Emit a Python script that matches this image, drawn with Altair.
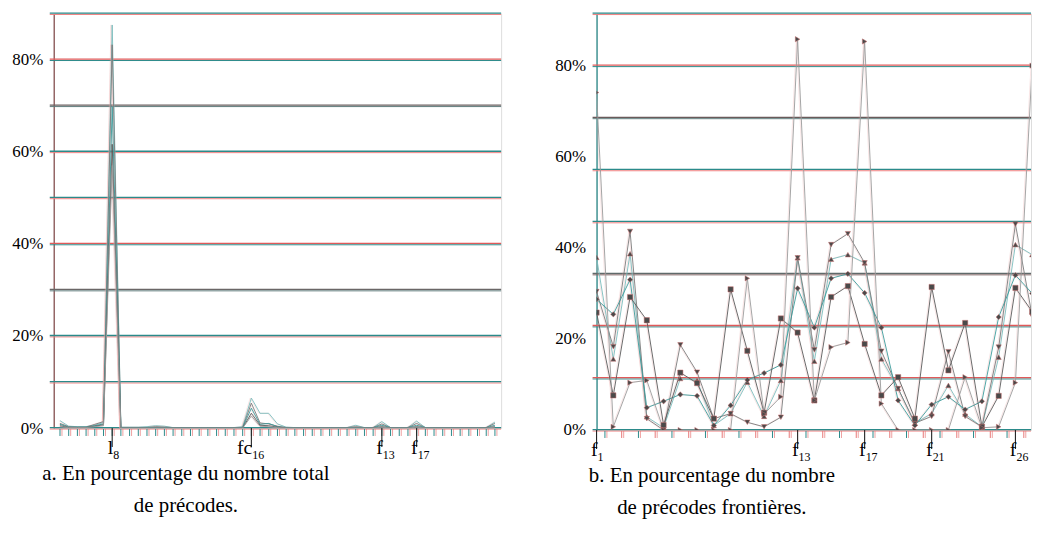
import altair as alt
import pandas as pd

# ---------------- data : panel a ----------------
left_index = list(range(51))
left_s1 = [1.6, 0.4, 0.3, 0.3, 0.6, 1.2, 87.5, 0.2, 0.2, 0.2, 0.3, 0.5, 0.4, 0.1, 0.1, 0.1, 0.1,
           0.1, 0.1, 0.1, 0.1, 0.3, 6.5, 3.2, 3.2, 0.9, 0.2, 0.1, 0.1, 0.1, 0.1, 0.1, 0.1, 0.1,
           0.6, 0.1, 0.1, 1.4, 0.1, 0.1, 0.1, 1.5, 0.1, 0.1, 0.1, 0.1, 0.1, 0.1, 0.1, 0.1, 1.3]
left_s2 = [1.0, 0.3, 0.2, 0.2, 0.8, 1.4, 83.2, 0.1, 0.1, 0.1, 0.1, 0.3, 0.2, 0.1, 0.1, 0.1, 0.1,
           0.1, 0.1, 0.1, 0.1, 0.1, 5.4, 1.1, 0.9, 0.4, 0.1, 0.1, 0.1, 0.1, 0.1, 0.1, 0.1, 0.1,
           0.3, 0.1, 0.1, 0.9, 0.1, 0.1, 0.1, 1.0, 0.1, 0.1, 0.1, 0.1, 0.1, 0.1, 0.1, 0.1, 1.0]
left_s3 = [0.8, 0.2, 0.2, 0.2, 0.5, 0.9, 69.8, 0.1, 0.1, 0.1, 0.1, 0.1, 0.1, 0.1, 0.1, 0.1, 0.1,
           0.1, 0.1, 0.1, 0.1, 0.1, 4.3, 0.8, 1.0, 0.3, 0.1, 0.1, 0.1, 0.1, 0.1, 0.1, 0.1, 0.1,
           0.1, 0.1, 0.1, 0.6, 0.1, 0.1, 0.1, 0.6, 0.1, 0.1, 0.1, 0.1, 0.1, 0.1, 0.1, 0.1, 0.6]
left_s4 = [0.5, 0.1, 0.1, 0.1, 0.4, 0.7, 61.6, 0.0, 0.0, 0.0, 0.0, 0.0, 0.0, 0.0, 0.0, 0.0, 0.0,
           0.0, 0.0, 0.0, 0.0, 0.0, 3.2, 0.6, 0.5, 0.2, 0.0, 0.0, 0.0, 0.0, 0.0, 0.0, 0.0, 0.0,
           0.0, 0.0, 0.0, 0.3, 0.0, 0.0, 0.0, 0.3, 0.0, 0.0, 0.0, 0.0, 0.0, 0.0, 0.0, 0.0, 0.3]
left_s5 = [0.3, 0.1, 0.1, 0.1, 0.3, 0.5, 57.0, 0.0, 0.0, 0.0, 0.0, 0.0, 0.0, 0.0, 0.0, 0.0, 0.0,
           0.0, 0.0, 0.0, 0.0, 0.0, 2.6, 0.4, 0.3, 0.1, 0.0, 0.0, 0.0, 0.0, 0.0, 0.0, 0.0, 0.0,
           0.0, 0.0, 0.0, 0.2, 0.0, 0.0, 0.0, 0.2, 0.0, 0.0, 0.0, 0.0, 0.0, 0.0, 0.0, 0.0, 0.2]
left_label_idx = [6, 22, 37, 41]
left_label_main = ["l", "fc", "f", "f"]
left_label_sub = ["8", "16", "13", "17"]
left_grid_values = [0, 10, 20, 30, 40, 50, 60, 70, 80, 90]
left_grid_top = ["#2b8a8a", "#2b8a8a", "#2b8a8a", "#6a6666", "#e05a5a", "#2b8a8a", "#2b8a8a",
                 "#6a6060", "#e05a5a", "#2b8a8a"]
left_grid_bottom = ["#f08080", "#f08080", "#f08080", "#5f7b7b", "#2b8a8a", "#f08080", "#f08080",
                    "#5f7b7b", "#2b8a8a", "#f08080"]

# ---------------- data : panel b ----------------
right_cats = list(range(1, 28))
right_up = [37.9, 15.6, 38.7, 2.9, 0.5, 11.3, 10.9, 1.0, 3.6, 10.5, 3.0, 10.9, 37.8, 15.1,
            37.5, 38.5, 36.7, 15.6, 9.1, 1.5, 3.6, 9.8, 3.5, 0.7, 16.0, 40.7, 38.5]
right_down = [30.4, 18.3, 43.6, 2.5, 0.0, 18.7, 12.7, 2.5, 3.6, 1.7, 0.7, 2.8, 37.8, 17.6,
              40.7, 43.1, 36.7, 17.3, 9.1, 1.5, 3.0, 17.2, 3.0, 0.7, 18.2, 45.2, 25.0]
right_diamond = [28.7, 25.4, 33.0, 4.9, 6.3, 7.8, 7.5, 1.0, 5.4, 11.0, 12.5, 14.3, 31.1, 22.5,
                 33.3, 34.3, 30.1, 22.5, 6.5, 1.0, 5.6, 7.3, 4.5, 6.3, 24.8, 34.0, 30.0]
right_square = [25.8, 7.6, 29.2, 24.1, 1.1, 12.6, 10.3, 2.5, 30.9, 17.4, 3.8, 24.5, 21.4, 6.5,
                29.2, 31.6, 18.9, 7.6, 11.6, 2.5, 31.4, 13.1, 23.5, 0.7, 7.5, 31.2, 26.0]
right_right = [74.1, 0.7, 10.4, 10.9, 0.0, 0.0, 0.0, 0.0, 0.0, 33.3, 3.5, 7.3, 85.8, 6.5,
               18.2, 19.2, 85.3, 5.8, 0.0, 0.0, 0.0, 0.0, 11.6, 0.5, 0.7, 10.4, 80.0]
right_label_idx = [1, 13, 17, 21, 26]
right_label_main = ["f", "f", "f", "f", "f"]
right_label_sub = ["1", "13", "17", "21", "26"]
right_tick_pos = [1.5, 2.5, 3.5, 4.5, 5.5, 6.5, 7.5, 8.5, 9.5, 10.5, 11.5, 12.5, 13.5, 14.5,
                  15.5, 16.5, 17.5, 18.5, 19.5, 20.5, 21.5, 22.5, 23.5, 24.5, 25.5, 26.5]
right_grid_values = [0, 11.43, 22.86, 34.29, 45.71, 57.14, 68.57, 80, 91.43]
right_grid_top = ["#2b8a8a", "#e05a5a", "#e05a5a", "#5f6a6a", "#2b8a8a", "#2b8a8a", "#6a5a5a",
                  "#e05a5a", "#2b8a8a"]
right_grid_bottom = ["#f08080", "#2b8a8a", "#2b8a8a", "#7a6060", "#f08080", "#f08080", "#5f7b7b",
                     "#2b8a8a", "#f08080"]

y_label_values = [0, 20, 40, 60, 80]

SERIF = "Liberation Serif, Times New Roman, Times, DejaVu Serif, Noto Serif, serif"
TEAL = "#2b8a8a"
RED = "#e87878"

WL, HL = 450, 417
WR, HR = 437, 419


def y_axis(domain_color):
    return alt.Axis(values=y_label_values, labelExpr="datum.value + '%'", grid=False,
                    ticks=False, domain=True, domainColor=domain_color, domainWidth=1.3,
                    labelFont=SERIF, labelFontSize=17, labelColor="black", labelPadding=11,
                    title=None)


def panel(df, names, colors, grid, ticks, labels, W, H, xdom, ydom, dom_color,
          tick_pos_field, points=False, title=None, title_dx=0):
    xs = alt.Scale(domain=xdom, nice=False, zero=False)
    x = alt.X("i:Q", scale=xs, axis=None)
    y = alt.Y("v:Q", scale=alt.Scale(domain=ydom, nice=False, zero=False), axis=y_axis(dom_color))

    g2 = alt.Chart(grid).mark_rule(strokeWidth=1.0, yOffset=1.0).encode(
        y=y, x=alt.value(-4), x2=alt.value(W), color=alt.Color("c2:N", scale=None))
    g1 = alt.Chart(grid).mark_rule(strokeWidth=1.3, yOffset=-0.4).encode(
        y=y, x=alt.value(-4), x2=alt.value(W), color=alt.Color("c1:N", scale=None))

    tx = alt.X(f"{tick_pos_field}:Q", scale=xs, axis=None)
    tk = alt.Chart(ticks).mark_rule(strokeWidth=1).encode(
        x=tx, y=alt.value(H + 1), y2=alt.value(H + 8), color=alt.Color("tc:N", scale=None))
    tk_red = alt.Chart(ticks).mark_rule(strokeWidth=1, xOffset=2, color=RED, opacity=0.7).encode(
        x=tx, y=alt.value(H + 1), y2=alt.value(H + 8))

    long_tk = alt.Chart(labels).mark_rule(strokeWidth=1.1, color="#222222").encode(
        x=x, y=alt.value(H), y2=alt.value(H + 19))
    lab_main = alt.Chart(labels).mark_text(align="right", baseline="alphabetic", font=SERIF,
                                           fontSize=20, dx=1, color="black").encode(
        x=x, y=alt.value(H + 26), text="main:N")
    lab_sub = alt.Chart(labels).mark_text(align="left", baseline="alphabetic", font=SERIF,
                                          fontSize=12, dx=1, color="black").encode(
        x=x, y=alt.value(H + 31), text="sub:N")

    shadow = alt.Chart(df).mark_line(strokeWidth=0.9, xOffset=-1.2, color="#eaa0a0", opacity=0.3,
                                     clip=True).encode(x=x, y=y, detail="s:N")
    lines = alt.Chart(df).mark_line(strokeWidth=0.9, clip=True).encode(
        x=x, y=y, color=alt.Color("s:N", scale=alt.Scale(domain=names, range=colors), legend=None))

    layers = [g2, g1, tk, tk_red, long_tk, lab_main, lab_sub, shadow, lines]
    if points:
        pts = alt.Chart(df).mark_point(filled=True, size=28, color="#4a4a4a", stroke="#c87070",
                                       strokeWidth=0.5, opacity=1, clip=True).encode(
            x=x, y=y,
            shape=alt.Shape("s:N", scale=alt.Scale(
                domain=names,
                range=["triangle-up", "triangle-down", "diamond", "square", "triangle-right"]),
                legend=None))
        layers.append(pts)
    return alt.layer(*layers).properties(
        width=W, height=H,
        title=alt.TitleParams(text=title, orient="bottom", anchor="start", frame="group",
                              dx=title_dx, offset=2, align="center", baseline="top", font=SERIF,
                              fontSize=21, fontWeight="normal", lineHeight=32, color="black"))


# ---------------- panel a ----------------
left_names = ["s1", "s2", "s3", "s4", "s5"]
left_vals = [left_s1, left_s2, left_s3, left_s4, left_s5]
left_df = pd.DataFrame([
    {"i": i, "v": v, "s": n}
    for n, vals in zip(left_names, left_vals) for i, v in zip(left_index, vals)
])
left_grid = pd.DataFrame({"v": left_grid_values, "c1": left_grid_top, "c2": left_grid_bottom})
left_ticks = pd.DataFrame({"i": left_index, "tc": [TEAL] * len(left_index)})
left_labels = pd.DataFrame({"i": left_label_idx, "main": left_label_main, "sub": left_label_sub})

left_chart = panel(left_df, left_names, ["#7abcbc", "#7a7a7a", "#3a9a9a", "#5a5a5a", "#9a9a9a"],
                   left_grid, left_ticks, left_labels, WL, HL, [-0.72, 50.71], [0, 90],
                   "#8a5555", "i", points=False,
                   title=["a. En pourcentage du nombre total", "de précodes."], title_dx=133)

# ---------------- panel b ----------------
right_names = ["up", "down", "diamond", "square", "right"]
right_vals = [right_up, right_down, right_diamond, right_square, right_right]
right_df = pd.DataFrame([
    {"i": i, "v": v, "s": n}
    for n, vals in zip(right_names, right_vals) for i, v in zip(right_cats, vals)
])
right_grid = pd.DataFrame({"v": right_grid_values, "c1": right_grid_top, "c2": right_grid_bottom})
right_ticks = pd.DataFrame({"h": right_tick_pos,
                            "tc": [TEAL if k % 2 == 0 else RED for k in range(len(right_tick_pos))]})
right_labels = pd.DataFrame({"i": right_label_idx, "main": right_label_main, "sub": right_label_sub})

right_chart = panel(right_df, right_names, ["#62adad", "#7aa5a5", "#8a9a9a", "#55a0a0", "#70b5b5"],
                    right_grid, right_ticks, right_labels, WR, HR, [1, 26.93], [0, 91.45],
                    TEAL, "h", points=True,
                    title=["b. En pourcentage du nombre", "de précodes frontières."], title_dx=116)

chart = alt.hconcat(left_chart, right_chart, spacing=51).properties(
    padding={"left": 3, "top": 2, "right": 0, "bottom": 0}
).configure_view(stroke=None).configure(background="white")

chart.save("out.html", embed_options={"renderer": "svg", "actions": False})
